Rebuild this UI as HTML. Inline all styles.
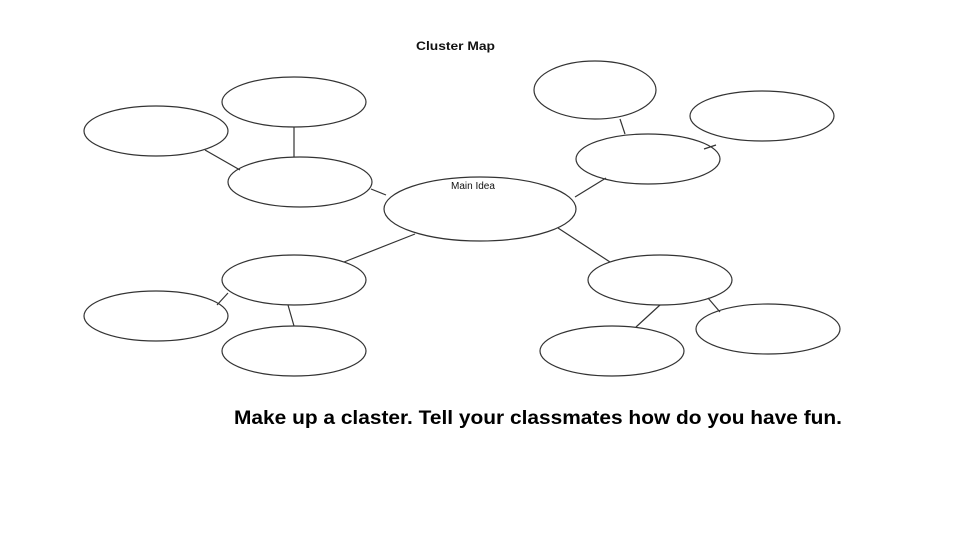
<!DOCTYPE html>
<html><head><meta charset="utf-8"><style>
html,body{margin:0;padding:0;background:#fff;}
svg{display:block;}
</style></head><body>
<svg width="960" height="540" viewBox="0 0 960 540" xmlns="http://www.w3.org/2000/svg">
<g fill="none" stroke="#333" stroke-width="1.2">
<ellipse cx="156" cy="131" rx="72" ry="25"/>
<ellipse cx="294" cy="102" rx="72" ry="25"/>
<ellipse cx="300" cy="182" rx="72" ry="25"/>
<ellipse cx="480" cy="209" rx="96" ry="32"/>
<ellipse cx="595" cy="90" rx="61" ry="29"/>
<ellipse cx="762" cy="116" rx="72" ry="25"/>
<ellipse cx="648" cy="159" rx="72" ry="25"/>
<ellipse cx="294" cy="280" rx="72" ry="25"/>
<ellipse cx="156" cy="316" rx="72" ry="25"/>
<ellipse cx="294" cy="351" rx="72" ry="25"/>
<ellipse cx="660" cy="280" rx="72" ry="25"/>
<ellipse cx="612" cy="351" rx="72" ry="25"/>
<ellipse cx="768" cy="329" rx="72" ry="25"/>
<line x1="205" y1="150" x2="240" y2="170"/>
<line x1="294" y1="127" x2="294" y2="157"/>
<line x1="371" y1="189" x2="386" y2="195"/>
<line x1="575" y1="197" x2="606" y2="178"/>
<line x1="620" y1="119" x2="625" y2="134"/>
<line x1="704" y1="149" x2="716" y2="145"/>
<line x1="415" y1="234" x2="344" y2="262"/>
<line x1="558" y1="228" x2="610" y2="262"/>
<line x1="228" y1="293" x2="217" y2="305"/>
<line x1="288" y1="305" x2="294" y2="326"/>
<line x1="660" y1="305" x2="636" y2="327"/>
<line x1="708" y1="298" x2="720" y2="312"/>
</g>
<text x="416" y="50" font-family="Liberation Sans, sans-serif" font-weight="bold" font-size="12" fill="#111" textLength="79" lengthAdjust="spacingAndGlyphs">Cluster Map</text>
<text x="451" y="189" font-family="Liberation Sans, sans-serif" font-size="10" fill="#111">Main Idea</text>
<text x="234" y="424" font-family="Liberation Sans, sans-serif" font-weight="bold" font-size="19" fill="#000" textLength="608" lengthAdjust="spacingAndGlyphs">Make up a claster. Tell  your classmates how do you have fun.</text>
</svg>
</body></html>
